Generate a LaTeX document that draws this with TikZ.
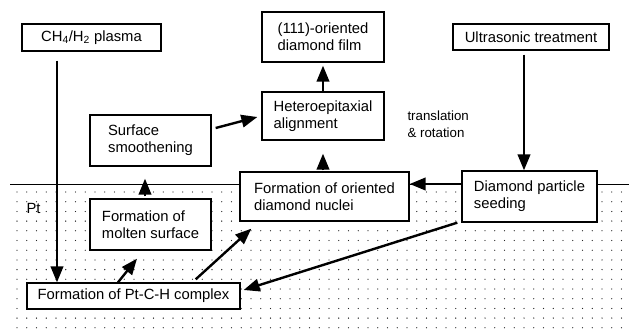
\documentclass[tikz,border=0pt]{standalone}
\usepackage{fontspec}
\setmainfont{Liberation Sans}
\usetikzlibrary{arrows.meta}

\begin{document}
\begin{tikzpicture}[x=1pt, y=-1pt, font=\fontsize{14.8}{17}\selectfont,
    box/.style = {draw, line width=1.3pt, fill=white, inner sep=0pt, align=left},
    arr/.style = {line width=2.4pt, -{Triangle[length=16pt, width=12.5pt]}},
    dot/.style = {fill=black!85}]

    \useasboundingbox (0,0) rectangle (629,335);

    % Pt substrate
    \foreach \i in {0,...,63}
        \foreach \j in {0,...,14}
            \fill[dot] (17+\i*9.75, 192+\j*9.7) circle (0.65pt);
    \draw[line width=1.3pt] (10,184.5) -- (629,184.5);
    \node (pt) at (33.5,208) {Pt};

    % boxes
    \node[box, minimum width=139pt, minimum height=27pt] (plasma) at (91.5,37.5) {CH\textsubscript{4}/H\textsubscript{2} plasma};
    \node[box, minimum width=156pt, minimum height=26pt] (ultra) at (531,37) {Ultrasonic treatment};
    \node[box, minimum width=122pt, minimum height=50pt] (film) at (323,37) {(111)-oriented\\diamond film};
    \node[box, minimum width=122pt, minimum height=48pt] (hetero) at (323,116) {Heteroepitaxial\\alignment};
    \node[box, minimum width=121pt, minimum height=51pt] (smooth) at (150.5,140.5) {Surface\\smoothening};
    \node[box, minimum width=169pt, minimum height=49pt] (nuclei) at (324.5,196.5) {Formation of oriented\\diamond nuclei};
    \node[box, minimum width=135pt, minimum height=51pt] (seeding) at (529.5,196.5) {Diamond particle\\seeding};
    \node[box, minimum width=121pt, minimum height=51pt] (molten) at (150.5,224.5) {Formation of\\molten surface};
    \node[box, minimum width=213pt, minimum height=26pt] (complex) at (133.5,296) {Formation of Pt-C-H complex};
    \node[anchor=west, align=left, font=\fontsize{13.3}{17}\selectfont] (move) at (404,124) {translation\\\& rotation};

    % arrows
    \draw[arr, shorten <=9pt] ([xshift=-34.5pt]plasma.south) -- ([xshift=-34.5pt]plasma.south |- complex.north);
    \draw[arr, shorten <=4pt] ([xshift=-7pt]ultra.south) -- ([xshift=-7pt]ultra.south |- seeding.north);
    \draw[arr] ([yshift=12.5pt]seeding.west) -- ([yshift=12.5pt]seeding.west -| nuclei.east);
    \draw[arr] ([xshift=-4pt]seeding.south west) -- ([xshift=3pt, yshift=6pt]complex.east);
    \draw[arr] ([xshift=-15.5pt]complex.north) -- ([xshift=-13.5pt, yshift=-8pt]molten.south);
    \draw[arr] ([xshift=-45pt, yshift=3pt]complex.north east) -- ([xshift=12pt, yshift=-7pt]nuclei.south west);
    \draw[arr] ([xshift=-5.5pt, yshift=2pt]molten.north) -- ([xshift=-5.5pt, yshift=-12pt]smooth.south);
    \draw[arr] ([xshift=4pt, yshift=12.5pt]smooth.east) -- ([xshift=-4pt, yshift=-1pt]hetero.west);
    \draw[arr] ([xshift=-1.5pt, yshift=1pt]nuclei.north) -- ([yshift=-13pt]hetero.south);
    \draw[arr, shorten >=3pt] (hetero.north) -- (film.south);

\end{tikzpicture}
\end{document}
